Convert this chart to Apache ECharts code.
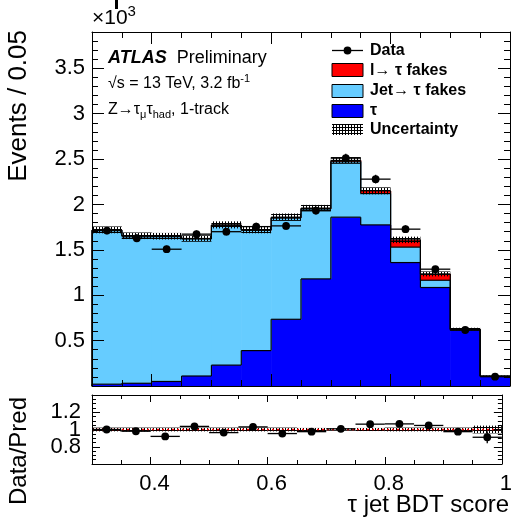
<!DOCTYPE html>
<html><head><meta charset="utf-8">
<script src="https://cdn.jsdelivr.net/npm/echarts@6/dist/echarts.min.js"></script>
<style>html,body{margin:0;padding:0;background:#fff}#c{width:515px;height:519px}</style>
</head><body><div id="c"></div><script>
// ---- data (values in units of 10^3 events) ----
const binEdges  = [0.30,0.35,0.40,0.45,0.50,0.55,0.60,0.65,0.70,0.75,0.80,0.85,0.90,0.95,1.00];
const tauVals   = [0.02,0.03,0.05,0.11,0.23,0.39,0.735,1.18,1.86,1.775,1.36,1.085,0.615,0.105];
const jetFakes  = [1.695,1.62,1.595,1.51,1.54,1.325,1.115,0.77,0.61,0.345,0.17,0.08,0.008,0.003];
const lepFakes  = [0.005,0.005,0.005,0.005,0.005,0.005,0.01,0.01,0.015,0.03,0.08,0.07,0.005,0.002];
const dataVals  = [1.712,1.628,1.507,1.673,1.70,1.756,1.764,1.933,2.51,2.279,1.728,1.287,0.617,0.103];
const dataErr   = [0.041,0.040,0.039,0.041,0.041,0.042,0.042,0.044,0.050,0.048,0.042,0.036,0.025,0.010];
const ratioVals = [1.0,0.98,0.92,1.036,0.964,1.03,0.953,0.975,1.008,1.062,1.065,1.047,0.975,0.91];
const ratioErr  = [0.025,0.025,0.027,0.025,0.024,0.024,0.024,0.023,0.02,0.021,0.025,0.03,0.04,0.07];
const relUnc    = [0.022,0.022,0.022,0.022,0.022,0.022,0.022,0.018,0.015,0.018,0.022,0.022,0.022,0.045];
const xTickVals = [0.4,0.6,0.8,1.0];
const xTickLabels = ['0.4','0.6','0.8','1'];
const yTickVals = [0.5,1,1.5,2,2.5,3,3.5];
const yTickLabels = ['0.5','1','1.5','2','2.5','3','3.5'];
const rTickVals = [0.8,1.0,1.2];
const rTickLabels = ['0.8','1','1.2'];
const refLine = [0.3,1.0,1.0];

const FONT = 'Liberation Sans, Arial, Helvetica, sans-serif';
const nb = tauVals.length;
const cumTau = tauVals.slice();
const cumJet = tauVals.map((v,i)=>v+jetFakes[i]);
const cumAll = cumJet.map((v,i)=>v+lepFakes[i]);

// hatch pattern
const pc = document.createElement('canvas'); pc.width = 3; pc.height = 3;
const pctx = pc.getContext('2d'); pctx.fillStyle = '#000';
pctx.fillRect(0,0,1,3); pctx.fillRect(0,1,3,1);
const hatch = {image: pc, repeat: 'repeat'};

function minorList(a,b,step,skip){const r=[];for(let v=a;v<=b+1e-9;v+=step){const x=Math.round(v*1000)/1000;if(!skip.some(s=>Math.abs(s-x)<1e-6))r.push(x);}return r;}
const xMinor = minorList(0.35,0.95,0.05,xTickVals);
const yMinor = minorList(0.1,3.8,0.1,yTickVals);
const rMinor = minorList(0.65,1.35,0.05,rTickVals);

function lab(vals,labels){return v=>{const i=vals.findIndex(t=>Math.abs(t-v)<1e-6);return i<0?'':labels[i];};}

function xAx(grid,pos,vals,len,line,labels,margin){
  return {type:'value',gridIndex:grid,position:pos,min:0.3,max:1.0,z:10,
    axisLine:{show:line,onZero:false,lineStyle:{color:'#000',width:1}},
    axisTick:{show:true,inside:true,length:len,customValues:vals,lineStyle:{color:'#000',width:1}},
    axisLabel:labels?{show:true,hideOverlap:false,customValues:vals,formatter:lab(vals,labels),fontFamily:FONT,fontSize:22,color:'#000',margin:margin,padding:[0,0,0,8]}:{show:false},
    splitLine:{show:false}};
}
function yAx(grid,pos,min,max,vals,len,line,labels,margin){
  return {type:'value',gridIndex:grid,position:pos,min:min,max:max,z:10,
    axisLine:{show:line,onZero:false,lineStyle:{color:'#000',width:1}},
    axisTick:{show:len>0,inside:true,length:len,customValues:vals,lineStyle:{color:'#000',width:1}},
    axisLabel:labels?{show:true,hideOverlap:false,customValues:vals,formatter:lab(vals,labels),fontFamily:FONT,fontSize:22,color:'#000',margin:margin}:{show:false},
    splitLine:{show:false}};
}

function fillSeries(name,base,top,color,xi,yi){
  return {type:'custom',name:name,xAxisIndex:xi,yAxisIndex:yi,z:2,silent:true,
    data:base.map((b,i)=>[binEdges[i],binEdges[i+1],b,top[i]]),
    renderItem:(p,api)=>{const a=api.coord([api.value(0),api.value(2)]);const b=api.coord([api.value(1),api.value(3)]);
      return {type:'rect',shape:{x:a[0],y:b[1],width:b[0]-a[0]+(p.dataIndex<nb-1?0.6:0),height:a[1]-b[1]},style:{fill:color}};}};
}
function outlineSeries(top){
  return {type:'custom',xAxisIndex:0,yAxisIndex:0,z:3,silent:true,
    data:top.map((t,i)=>[binEdges[i],binEdges[i+1],t,i>0?top[i-1]:0]),
    renderItem:(p,api)=>{const lo=api.value(0),hi=api.value(1),t=api.value(2),pr=api.value(3);
      const A=api.coord([lo,t]),B=api.coord([hi,t]),C=api.coord([lo,pr]);
      const ch=[{type:'line',shape:{x1:A[0],y1:A[1],x2:B[0],y2:B[1]},style:{stroke:'#000',lineWidth:1.2}},
                {type:'line',shape:{x1:C[0],y1:C[1],x2:A[0],y2:A[1]},style:{stroke:'#000',lineWidth:1.2}}];
      return {type:'group',children:ch};}};
}
function bandSeries(lo,hi,xi,yi){
  return {type:'custom',xAxisIndex:xi,yAxisIndex:yi,z:4,silent:true,
    data:lo.map((l,i)=>[binEdges[i],binEdges[i+1],l,hi[i]]),
    renderItem:(p,api)=>{const a=api.coord([api.value(0),api.value(2)]);const b=api.coord([api.value(1),api.value(3)]);
      return {type:'rect',shape:{x:a[0],y:b[1],width:b[0]-a[0],height:Math.max(1,a[1]-b[1])},style:{fill:hatch}};}};
}
function pointSeries(vals,errs,xi,yi){
  return {type:'custom',xAxisIndex:xi,yAxisIndex:yi,z:6,silent:true,
    data:vals.map((v,i)=>[binEdges[i],binEdges[i+1],v,errs[i]]),
    renderItem:(p,api)=>{const lo=api.value(0),hi=api.value(1),v=api.value(2),e=api.value(3);
      const c=api.coord([(lo+hi)/2,v]),L=api.coord([lo,v]),R=api.coord([hi,v]),U=api.coord([(lo+hi)/2,v+e]),D=api.coord([(lo+hi)/2,v-e]);
      return {type:'group',children:[
        {type:'line',shape:{x1:L[0],y1:L[1],x2:R[0],y2:R[1]},style:{stroke:'#000',lineWidth:1.3}},
        {type:'line',shape:{x1:U[0],y1:U[1],x2:D[0],y2:D[1]},style:{stroke:'#000',lineWidth:1.3}},
        {type:'circle',shape:{cx:c[0],cy:c[1],r:3.9},style:{fill:'#000'}}]};}};
}

const series = [
  fillSeries('tau',tauVals.map(()=>0),cumTau,'#0000FF',0,0),
  fillSeries('jet',cumTau,cumJet,'#66CCFF',0,0),
  fillSeries('lep',cumJet,cumAll,'#FF0000',0,0),
  outlineSeries(cumAll), outlineSeries(cumJet), outlineSeries(cumTau),
  bandSeries(cumAll.map((t,i)=>t*(1-relUnc[i])),cumAll.map((t,i)=>t*(1+relUnc[i])),0,0),
  pointSeries(dataVals,dataErr,0,0),
  bandSeries(relUnc.map(r=>1-r),relUnc.map(r=>1+r),4,4),
  {type:'custom',xAxisIndex:4,yAxisIndex:4,z:5,silent:true,data:[refLine],
    renderItem:(p,api)=>{const a=api.coord([api.value(0),api.value(2)]),b=api.coord([api.value(1),api.value(2)]);
      return {type:'line',shape:{x1:a[0],y1:a[1],x2:b[0],y2:b[1]},style:{stroke:'#FF0000',lineWidth:1.5,lineDash:[2,3]}};}},
  pointSeries(ratioVals,ratioErr,4,4)
];

const TS = 24;
const legX=332, legW=31, legTX=370;
const graphic = [
  {type:'rect',shape:{x:115,y:0,width:3,height:9},style:{fill:'#000'},z:20,silent:true},
  {type:'text',x:92,y:29,z:20,silent:true,style:{text:'{a|×10}{s|3}',rich:{a:{fontFamily:FONT,fontSize:21,lineHeight:22},s:{fontFamily:FONT,fontSize:15,lineHeight:12,padding:[0,0,12,0]}},verticalAlign:'bottom',fill:'#000'}},
  {type:'text',x:19,y:30,rotation:Math.PI/2,z:20,silent:true,style:{text:'Events / 0.05',fontFamily:FONT,fontSize:26,fill:'#000',align:'right',verticalAlign:'middle'}},
  {type:'text',x:19,y:451,rotation:Math.PI/2,z:20,silent:true,style:{text:'Data/Pred',fontFamily:FONT,fontSize:TS,fill:'#000',align:'center',verticalAlign:'middle'}},
  {type:'text',x:509,y:517,z:20,silent:true,style:{text:'τ jet BDT score',fontFamily:FONT,fontSize:TS,fill:'#000',align:'right',verticalAlign:'bottom'}},
  {type:'text',x:108,y:58,z:20,silent:true,style:{text:'{b|ATLAS}{a|  Preliminary}',rich:{b:{fontFamily:FONT,fontSize:18,fontWeight:'bold',fontStyle:'italic'},a:{fontFamily:FONT,fontSize:18}},verticalAlign:'middle',fill:'#000'}},
  {type:'text',x:108,y:84,z:20,silent:true,style:{text:'{a|√s = 13 TeV, 3.2 fb}{s|-1}',rich:{a:{fontFamily:FONT,fontSize:16,lineHeight:22},s:{fontFamily:FONT,fontSize:11,lineHeight:12,padding:[0,0,10,0]}},verticalAlign:'middle',fill:'#000'}},
  {type:'text',x:108,y:110,z:20,silent:true,style:{text:'{a|Z→τ}{s|μ}{a|τ}{s|had}{a|, 1-track}',rich:{a:{fontFamily:FONT,fontSize:16,lineHeight:22},s:{fontFamily:FONT,fontSize:11,lineHeight:12,padding:[10,0,0,0]}},verticalAlign:'middle',fill:'#000'}},
  // legend
  {type:'line',shape:{x1:legX,y1:50.5,x2:legX+legW,y2:50.5},style:{stroke:'#000',lineWidth:1.3},z:20,silent:true},
  {type:'circle',shape:{cx:legX+legW/2,cy:50.5,r:3.9},style:{fill:'#000'},z:20,silent:true},
  {type:'rect',shape:{x:legX,y:63.5,width:legW,height:13},style:{fill:'#FF0000',stroke:'#000',lineWidth:1},z:20,silent:true},
  {type:'rect',shape:{x:legX,y:84.5,width:legW,height:13},style:{fill:'#66CCFF',stroke:'#000',lineWidth:1},z:20,silent:true},
  {type:'rect',shape:{x:legX,y:104.5,width:legW,height:13},style:{fill:'#0000FF',stroke:'#000',lineWidth:1},z:20,silent:true},
  {type:'rect',shape:{x:legX,y:124,width:legW,height:11},style:{fill:hatch},z:20,silent:true},
  {type:'text',x:legTX,y:50.5,z:20,silent:true,style:{text:'Data',fontFamily:FONT,fontSize:16,fontWeight:'bold',fill:'#000',verticalAlign:'middle'}},
  {type:'text',x:legTX,y:70.5,z:20,silent:true,style:{text:'l→ τ fakes',fontFamily:FONT,fontSize:16,fontWeight:'bold',fill:'#000',verticalAlign:'middle'}},
  {type:'text',x:legTX,y:91,z:20,silent:true,style:{text:'Jet→ τ fakes',fontFamily:FONT,fontSize:16,fontWeight:'bold',fill:'#000',verticalAlign:'middle'}},
  {type:'text',x:legTX,y:111,z:20,silent:true,style:{text:'τ',fontFamily:FONT,fontSize:16,fontWeight:'bold',fill:'#000',verticalAlign:'middle'}},
  {type:'text',x:legTX,y:130,z:20,silent:true,style:{text:'Uncertainty',fontFamily:FONT,fontSize:16,fontWeight:'bold',fill:'#000',verticalAlign:'middle'}}
];

const chart = echarts.init(document.getElementById('c'),null,{renderer:'canvas'});
chart.setOption({
  animation:false, backgroundColor:'#fff',
  grid:[{left:92,right:5,top:32,height:354},{left:92,right:5,top:395,height:69}],
  xAxis:[
    xAx(0,'bottom',xTickVals,12,true,null),
    xAx(0,'bottom',xMinor,6,false,null),
    xAx(0,'top',xTickVals,12,true,null),
    xAx(0,'top',xMinor,6,false,null),
    xAx(1,'bottom',xTickVals,7,true,xTickLabels,9),
    xAx(1,'bottom',xMinor,4,false,null),
    xAx(1,'top',xTickVals,7,true,null),
    xAx(1,'top',xMinor,4,false,null)
  ],
  yAxis:[
    yAx(0,'left',0,3.9,yTickVals,12,true,yTickLabels,7),
    yAx(0,'left',0,3.9,yMinor,6,false,null),
    yAx(0,'right',0,3.9,yTickVals,12,true,null),
    yAx(0,'right',0,3.9,yMinor,6,false,null),
    yAx(1,'left',0.6,1.4,rTickVals,8,true,null),
    yAx(1,'left',0.6,1.4,rMinor,4,false,null),
    yAx(1,'right',0.6,1.4,rTickVals,8,true,null),
    yAx(1,'right',0.6,1.4,rMinor,4,false,null),
    yAx(1,'left',0.6,1.4,[rTickVals[0]],0,false,[rTickLabels[0]],11),
    yAx(1,'left',0.6,1.4,[rTickVals[1]],0,false,[rTickLabels[1]],11),
    yAx(1,'left',0.6,1.4,[rTickVals[2]],0,false,[rTickLabels[2]],11)
  ],
  series:series,
  graphic:graphic
});
</script></body></html>
